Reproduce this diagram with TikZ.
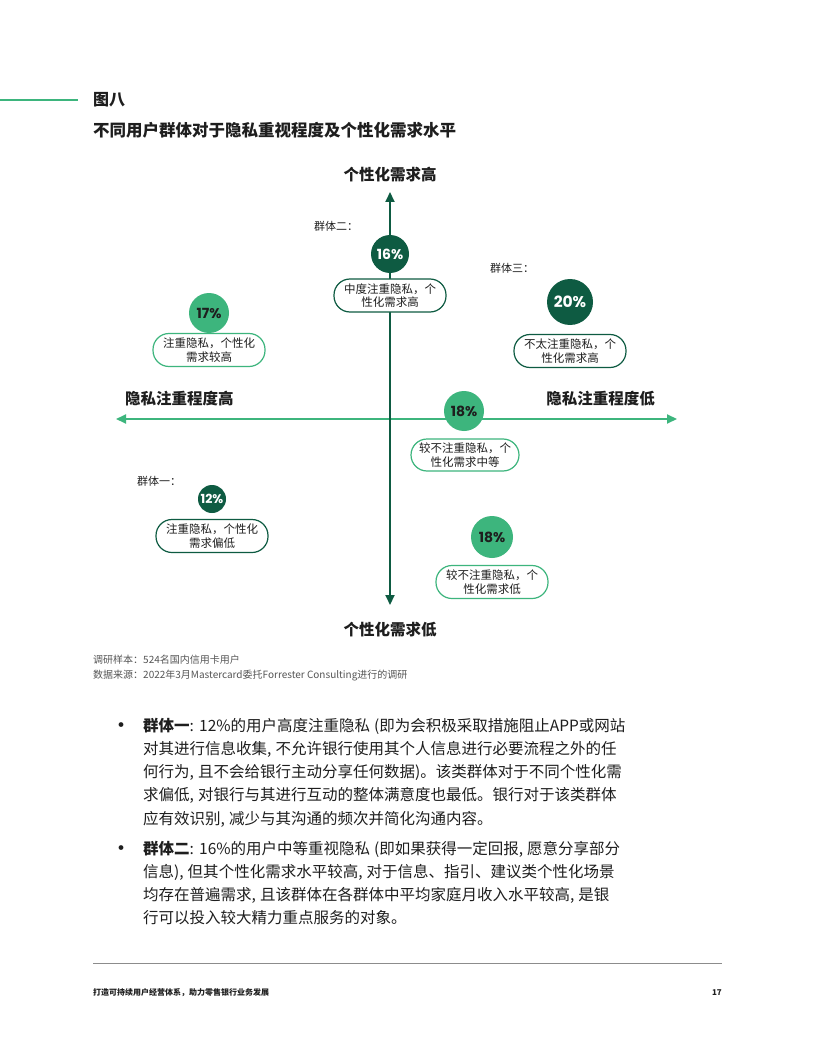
\documentclass[tikz,border=0pt]{standalone}
\usepackage{fontspec}
\setmainfont{Noto Sans CJK SC}
\newfontfamily\numfont{Poppins}
\usetikzlibrary{arrows.meta}
\XeTeXlinebreaklocale "zh"
\XeTeXlinebreakskip=0pt plus 1fil
\definecolor{dkgreen}{HTML}{0E5B42}
\definecolor{ltgreen}{HTML}{3DB57D}
\definecolor{bodytext}{HTML}{1E1E1E}
\definecolor{notegray}{HTML}{555555}
\definecolor{rulegray}{HTML}{8C8C8C}
\newcommand{\justline}[1]{\hbox to 487pt{\spaceskip=4pt\relax #1}}
\begin{document}
\begin{tikzpicture}[x=1pt,y=-1pt,
  pill/.style={draw, fill=white, line width=1.2pt, rounded corners=16pt,
    minimum width=112pt, minimum height=33pt, align=center, inner sep=2pt,
    font=\fontsize{11.5}{13.5}\selectfont, text=bodytext},
  pilldk/.style={pill, draw=dkgreen},
  pilllt/.style={pill, draw=ltgreen},
  pct/.style={circle, inner sep=0pt, font=\numfont\bfseries\fontsize{14}{14}\selectfont},
  pctdk/.style={pct, fill=dkgreen, text=white},
  pctlt/.style={pct, fill=ltgreen, text=bodytext},
  grp/.style={anchor=west, inner sep=0pt, font=\fontsize{11}{13}\selectfont, text=bodytext},
  axislabel/.style={inner sep=0pt, font=\bfseries\fontsize{15.5}{18}\selectfont, text=bodytext},
  bodyline/.style={anchor=base west, inner sep=0pt, font=\fontsize{15.5}{23}\selectfont, text=bodytext},
  bulletmark/.style={anchor=base, inner sep=0pt, font=\bfseries\fontsize{17}{18}\selectfont, text=bodytext},
  note/.style={anchor=west, inner sep=0pt, font=\fontsize{10}{12}\selectfont, text=notegray},
  foot/.style={inner sep=0pt, font=\bfseries\fontsize{8}{10}\selectfont, text=bodytext},
  vaxis/.style={draw=dkgreen, line width=2pt, {Triangle[width=9pt,length=10pt]}-{Triangle[width=9pt,length=10pt]}},
  haxis/.style={draw=ltgreen, line width=2pt, {Triangle[width=9pt,length=10pt]}-{Triangle[width=9pt,length=10pt]}}
]
\fill[white] (0,0) rectangle (816,1056);
\useasboundingbox (0,0) rectangle (816,1056);

% header
\coordinate (hl0) at (0,100);
\coordinate (hl1) at (78,100);
\draw[ltgreen, line width=2.5pt] (hl0) -- (hl1);
\node[anchor=west, inner sep=0pt, font=\bfseries\fontsize{16}{18}\selectfont, text=bodytext] (fig) at (93,100) {图八};
\node[anchor=west, inner sep=0pt, font=\bfseries\fontsize{16.5}{18}\selectfont, text=bodytext] (title) at (93,130) {不同用户群体对于隐私重视程度及个性化需求水平};

% axes
\coordinate (ytop) at (390,192);
\coordinate (ybot) at (390,605);
\coordinate (xl) at (116,419);
\coordinate (xr) at (677,419);
\draw[haxis] (xl) -- (xr);
\draw[vaxis] (ybot) -- (ytop);

\node[axislabel] (lblhi) at (390,175) {个性化需求高};
\node[axislabel] (lbllo) at (390,630) {个性化需求低};
\node[axislabel, anchor=west] (lblleft) at (125,399) {隐私注重程度高};
\node[axislabel, anchor=east] (lblright) at (655,399) {隐私注重程度低};

% group 2
\node[grp] (g2) at (314,226) {群体二：};
\node[pctdk, minimum size=38pt] (c16) at (390,254) {16\%};
\node[pilldk] (p16) at (390,295.5) {中度注重隐私，个\\性化需求高};

% group 3
\node[grp] (g3) at (490,268) {群体三：};
\node[pctdk, minimum size=46pt, font=\numfont\bfseries\fontsize{15.5}{16}\selectfont] (c20) at (570,302) {20\%};
\node[pilldk] (p20) at (570,351) {不太注重隐私，个\\性化需求高};

% 17%
\node[pctlt, minimum size=40pt] (c17) at (209,313) {17\%};
\node[pilllt] (p17) at (209,350) {注重隐私，个性化\\需求较高};

% 18% middle
\node[pctlt, minimum size=40pt] (c18a) at (464,411) {18\%};
\node[pilllt, minimum width=108pt, minimum height=32pt] (p18a) at (465,455) {较不注重隐私，个\\性化需求中等};

% group 1
\node[grp] (g1) at (137,481) {群体一：};
\node[pctdk, minimum size=28pt, font=\numfont\bfseries\fontsize{12.5}{12}\selectfont] (c12) at (212,499) {12\%};
\node[pilldk] (p12) at (212,536) {注重隐私，个性化\\需求偏低};

% 18% lower
\node[pctlt, minimum size=42pt] (c18b) at (492,537) {18\%};
\node[pilllt] (p18b) at (492,582) {较不注重隐私，个\\性化需求低};

% notes
\node[note] (n1) at (93,660) {调研样本：524名国内信用卡用户};
\node[note] (n2) at (93,676) {数据来源：2022年3月Mastercard委托Forrester Consulting进行的调研};

% body text
\node[bulletmark] (b1) at (121,731) {•};
\node[bodyline] (l1) at (143,731) {\justline{\textbf{群体一}: 12\%的用户高度注重隐私 (即为会积极采取措施阻止APP或网站}};
\node[bodyline] (l2) at (143,754.3) {\justline{对其进行信息收集, 不允许银行使用其个人信息进行必要流程之外的任}};
\node[bodyline] (l3) at (143,777.6) {\justline{何行为, 且不会给银行主动分享任何数据)。该类群体对于不同个性化需}};
\node[bodyline] (l4) at (143,800.9) {\justline{求偏低, 对银行与其进行互动的整体满意度也最低。银行对于该类群体}};
\node[bodyline] (l5) at (143,824.2) {\spaceskip=4pt\relax 应有效识别, 减少与其沟通的频次并简化沟通内容。};

\node[bulletmark] (b2) at (121,854) {•};
\node[bodyline] (m1) at (143,854) {\justline{\textbf{群体二}: 16\%的用户中等重视隐私 (即如果获得一定回报, 愿意分享部分}};
\node[bodyline] (m2) at (143,877.3) {\justline{信息), 但其个性化需求水平较高, 对于信息、指引、建议类个性化场景}};
\node[bodyline] (m3) at (143,900.6) {\justline{均存在普遍需求, 且该群体在各群体中平均家庭月收入水平较高, 是银}};
\node[bodyline] (m4) at (143,923.9) {行可以投入较大精力重点服务的对象。};

% footer
\coordinate (fr0) at (93,963);
\coordinate (fr1) at (722,963);
\draw[rulegray, line width=1pt] (fr0) -- (fr1);
\node[foot, anchor=west] (ft) at (93,993) {打造可持续用户经营体系，助力零售银行业务发展};
\node[foot, anchor=east] (pg) at (722,993) {17};
\end{tikzpicture}
\end{document}
